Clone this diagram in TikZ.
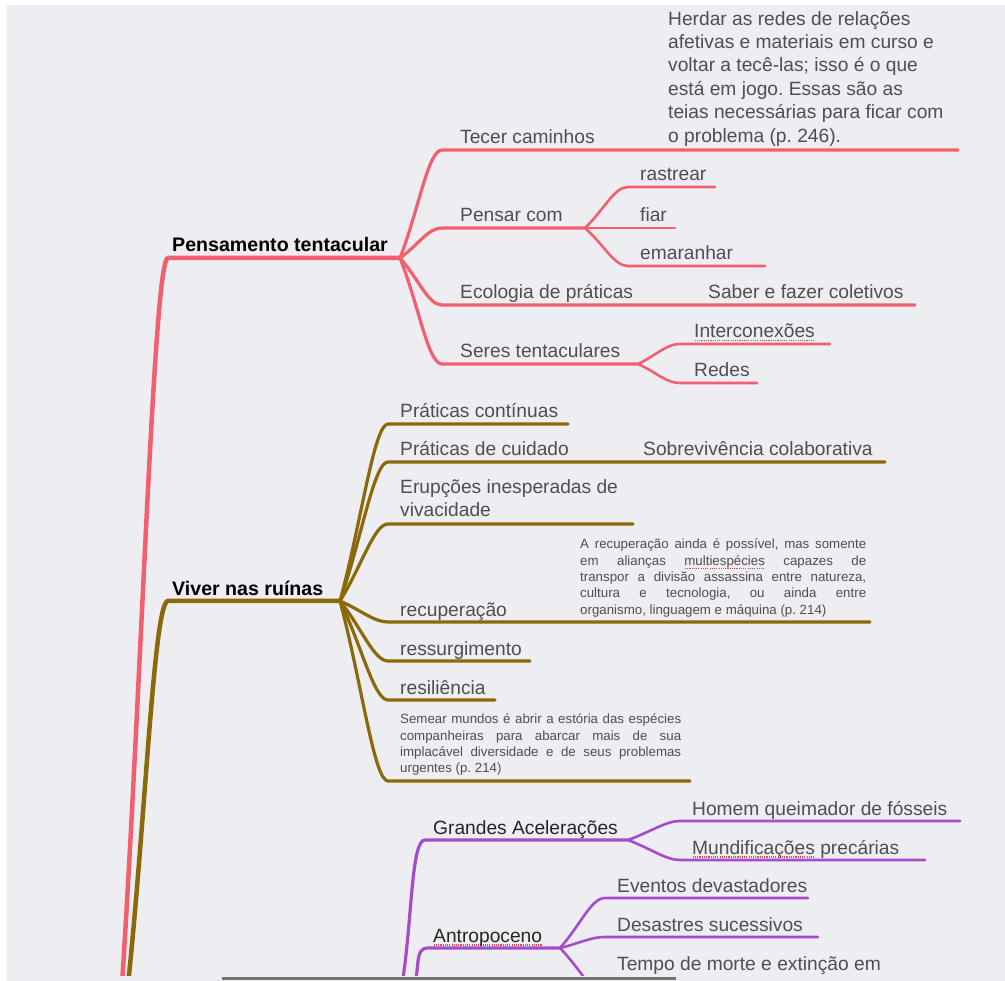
\documentclass[tikz,border=0pt]{standalone}
\usepackage{fontspec}
\setmainfont{Liberation Sans}
\usepackage{tikz}
\usetikzlibrary{calc}
\definecolor{tentared}{HTML}{F25F6E}
\definecolor{ruinolive}{HTML}{8A6A08}
\definecolor{acelpurple}{HTML}{A64CCB}
\definecolor{boardgray}{HTML}{EDEDF2}
\definecolor{leafgray}{HTML}{4F4F52}
\definecolor{spellred}{HTML}{E04B4B}
\frenchspacing
\newsavebox{\spellbox}
\newcommand{\spellmark}[1]{\sbox{\spellbox}{#1}\rlap{\raisebox{-3.5pt}{\textcolor{spellred}{\makebox[\wd\spellbox]{\xleaders\hbox to 2.2pt{\hss\rule{1.1pt}{1.1pt}\hss}\hfill}}}}\usebox{\spellbox}}

\begin{document}
\begin{tikzpicture}[x=1pt, y=-1pt,
  every node/.style={inner sep=0pt, text=leafgray, font=\fontsize{19.2}{23.4}\selectfont},
  leaf/.style={anchor=base west},
  topic/.style={anchor=base west, text=black, font=\fontsize{19.6}{23.4}\selectfont\bfseries},
  subtopic/.style={anchor=base west, text=black!85},
  quote/.style={anchor=north west, align=left},
  note/.style={anchor=north west, align=justify, font=\fontsize{13.3}{16.3}\selectfont},
  trunk/.style={line width=4.5pt, line cap=round},
  limb/.style={line width=3.2pt, line cap=round},
  twig/.style={line width=2.6pt, line cap=round},
  bough/.style={to path={.. controls ($(\tikztostart)!0.45!(\tikztotarget)$) and ($(\tikztotarget)+(-14,0)$) .. (\tikztotarget)}}
]
\fill[white] (0,0) rectangle (1005,981);
\fill[boardgray] (7,5) rectangle (1005,981);
\useasboundingbox (0,0) rectangle (1005,981);

% anchor points of the map
\coordinate (red-base) at (122,985);
\coordinate (olive-base) at (128,985);
\coordinate (ga-base) at (402,985);
\coordinate (an-base) at (414,985);

\coordinate (pt-start) at (168,258);  \coordinate (pt-hub) at (400,258);
\coordinate (tc-start) at (442,150);  \coordinate (tc-end) at (958,150);
\coordinate (pc-start) at (442,228);  \coordinate (pc-hub) at (585,228);
\coordinate (ra-start) at (628,187);  \coordinate (ra-end) at (715,187);
\coordinate (fi-end) at (675,228);
\coordinate (em-start) at (628,266);  \coordinate (em-end) at (765,266);
\coordinate (ec-start) at (442,305);  \coordinate (ec-end) at (915,305);
\coordinate (st-start) at (442,364);  \coordinate (st-hub) at (638,364);
\coordinate (ic-start) at (680,344);  \coordinate (ic-end) at (830,344);
\coordinate (re-start) at (680,383);  \coordinate (re-end) at (757,383);

\coordinate (vr-start) at (168,601);  \coordinate (vr-hub) at (340,601);
\coordinate (pco-start) at (388,424); \coordinate (pco-end) at (568,424);
\coordinate (pcu-start) at (388,462); \coordinate (pcu-end) at (885,462);
\coordinate (er-start) at (388,524);  \coordinate (er-end) at (633,524);
\coordinate (rc-start) at (388,622);  \coordinate (rc-end) at (870,622);
\coordinate (rs-start) at (388,661);  \coordinate (rs-end) at (530,661);
\coordinate (rl-start) at (388,700);  \coordinate (rl-end) at (495,700);
\coordinate (sm-start) at (388,781);  \coordinate (sm-end) at (690,781);

\coordinate (ga-start) at (425,840);  \coordinate (ga-hub) at (628,840);
\coordinate (hq-start) at (680,821);  \coordinate (hq-end) at (960,821);
\coordinate (mp-start) at (680,860);  \coordinate (mp-end) at (925,860);
\coordinate (an-start) at (428,948);  \coordinate (an-hub) at (560,948);
\coordinate (ev-start) at (605,898);  \coordinate (ev-end) at (808,898);
\coordinate (ds-start) at (605,937);  \coordinate (ds-end) at (818,937);
\coordinate (tm-start) at (610,1000);

\begin{scope}
\clip (7,5) rectangle (1005,975);
% Pensamento tentacular
\draw[tentared, trunk] (red-base) to[bough] (pt-start) -- (pt-hub);
\draw[tentared, limb] (pt-hub) to[bough] (tc-start) -- (tc-end);
\draw[tentared, limb] (pt-hub) to[bough] (pc-start) -- (pc-hub);
\draw[tentared, twig] (pc-hub) to[bough] (ra-start) -- (ra-end);
\draw[tentared, twig] (pc-hub) -- (fi-end);
\draw[tentared, twig] (pc-hub) to[bough] (em-start) -- (em-end);
\draw[tentared, limb] (pt-hub) to[bough] (ec-start) -- (ec-end);
\draw[tentared, limb] (pt-hub) to[bough] (st-start) -- (st-hub);
\draw[tentared, twig] (st-hub) to[bough] (ic-start) -- (ic-end);
\draw[tentared, twig] (st-hub) to[bough] (re-start) -- (re-end);

% Viver nas ruinas
\draw[ruinolive, trunk] (olive-base) to[bough] (vr-start) -- (vr-hub);
\draw[ruinolive, limb] (vr-hub) to[bough] (pco-start) -- (pco-end);
\draw[ruinolive, limb] (vr-hub) to[bough] (pcu-start) -- (pcu-end);
\draw[ruinolive, limb] (vr-hub) to[bough] (er-start) -- (er-end);
\draw[ruinolive, limb] (vr-hub) to[bough] (rc-start) -- (rc-end);
\draw[ruinolive, limb] (vr-hub) to[bough] (rs-start) -- (rs-end);
\draw[ruinolive, limb] (vr-hub) to[bough] (rl-start) -- (rl-end);
\draw[ruinolive, limb] (vr-hub) to[bough] (sm-start) -- (sm-end);

% Antropoceno
\draw[acelpurple, limb] (ga-base) to[bough] (ga-start) -- (ga-hub);
\draw[acelpurple, twig] (ga-hub) to[bough] (hq-start) -- (hq-end);
\draw[acelpurple, twig] (ga-hub) to[bough] (mp-start) -- (mp-end);
\draw[acelpurple, limb] (an-base) to[bough] (an-start) -- (an-hub);
\draw[acelpurple, twig] (an-hub) to[bough] (ev-start) -- (ev-end);
\draw[acelpurple, twig] (an-hub) to[bough] (ds-start) -- (ds-end);
\draw[acelpurple, twig] (an-hub) to[bough] (tm-start);
\end{scope}

\draw[black!55, line width=3pt] (222,978) -- (676,978);

% labels
\node[topic] (pt) at (172,252) {Pensamento tentacular};
\node[leaf] (tc) at (460,144) {Tecer caminhos};
\node[quote] (tc-quote) at (668,11) {Herdar as redes de relações\\afetivas e materiais em curso e\\voltar a tecê-las; isso é o que\\está em jogo. Essas são as\\teias necessárias para ficar com\\o problema (p. 246).};
\node[leaf] (pc) at (460,222) {Pensar com};
\node[leaf] (ra) at (640,181) {rastrear};
\node[leaf] (fi) at (640,222) {fiar};
\node[leaf] (em) at (640,260) {emaranhar};
\node[leaf] (ec) at (460,299) {Ecologia de práticas};
\node[leaf] (sf) at (708,299) {Saber e fazer coletivos};
\node[leaf] (st) at (460,358) {Seres tentaculares};
\node[leaf] (ic) at (694,338) {\spellmark{Interconexões}};
\node[leaf] (re) at (694,377) {Redes};

\node[topic] (vr) at (172,595) {Viver nas ruínas};
\node[leaf] (pco) at (400,418) {Práticas contínuas};
\node[leaf] (pcu) at (400,456) {Práticas de cuidado};
\node[leaf] (sc) at (643,456) {Sobrevivência colaborativa};
\node[quote] (er) at (400,479) {Erupções inesperadas de\\vivacidade};
\node[note, text width=286pt] (rc-note) at (580,539) {A recuperação ainda é possível, mas somente\linebreak em alianças \spellmark{multiespécies} capazes de\linebreak transpor a divisão assassina entre natureza,\linebreak cultura e tecnologia, ou ainda entre\linebreak organismo, linguagem e máquina (p. 214)};
\node[leaf] (rc) at (400,616) {recuperação};
\node[leaf] (rs) at (400,655) {ressurgimento};
\node[leaf] (rl) at (400,694) {resiliência};
\node[note, text width=281pt] (sm-note) at (400,714) {Semear mundos é abrir a estória das espécies\linebreak companheiras para abarcar mais de sua\linebreak implacável diversidade e de seus problemas\linebreak urgentes (p. 214)};

\node[subtopic] (ga) at (433,834) {Grandes Acelerações};
\node[leaf] (hq) at (692,815) {Homem queimador de fósseis};
\node[leaf] (mp) at (692,854) {\spellmark{Mundificações} precárias};
\node[subtopic] (an) at (433,942) {\spellmark{Antropoceno}};
\node[leaf] (ev) at (617,892) {Eventos devastadores};
\node[leaf] (ds) at (617,931) {Desastres sucessivos};
\node[leaf] (tm) at (617,970) {Tempo de morte e extinção em};
\end{tikzpicture}
\end{document}
